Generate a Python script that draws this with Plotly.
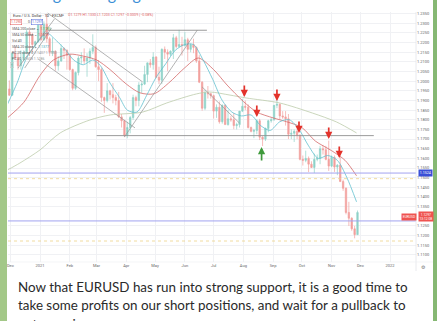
import plotly.graph_objects as go
import pandas as pd

W, H = 437, 321
def px(x): return x / W
def py(y): return 1 - y / H

# ---------------- data ----------------
candle_dates = pd.date_range("2020-11-27", periods=123, freq="3D")
opens = [1.1890,1.1960,1.1927,1.2145,1.2120,1.2080,1.2110,1.2150,1.2255,1.2240,
         1.2190,1.2205,1.2300,1.2215,1.2295,1.2220,1.2150,1.2155,1.2080,1.2105,
         1.2170,1.2160,1.2135,1.2060,1.1963,1.2045,1.2120,1.2125,1.2105,1.2120,
         1.2155,1.2175,1.2075,1.2060,1.1915,1.1900,1.1950,1.1930,1.1915,1.1900,
         1.1815,1.1795,1.1720,1.1760,1.1812,1.1915,1.1900,1.1980,1.1985,1.2035,
         1.2095,1.2085,1.2125,1.2020,1.2005,1.2165,1.2150,1.2140,1.2155,1.2225,
         1.2180,1.2190,1.2185,1.2215,1.2165,1.2190,1.2175,1.2105,1.1995,1.1860,
         1.1940,1.1935,1.1925,1.1845,1.1865,1.1790,1.1875,1.1775,1.1805,1.1800,
         1.1770,1.1775,1.1845,1.1870,1.1865,1.1760,1.1740,1.1745,1.1795,1.1710,
         1.1700,1.1755,1.1795,1.1800,1.1875,1.1880,1.1820,1.1815,1.1805,1.1725,
         1.1730,1.1740,1.1720,1.1595,1.1590,1.1600,1.1570,1.1553,1.1595,1.1600,
         1.1650,1.1645,1.1595,1.1560,1.1605,1.1555,1.1565,1.1480,1.1445,1.1320,
         1.1290,1.1235,1.1205]
highs = [1.1965,1.2004,1.2150,1.2177,1.2145,1.2160,1.2160,1.2273,1.2265,1.2250,
         1.2210,1.2310,1.2310,1.2310,1.2349,1.2230,1.2225,1.2160,1.2130,1.2190,
         1.2175,1.2165,1.2140,1.2065,1.2050,1.2130,1.2150,1.2170,1.2145,1.2170,
         1.2243,1.2185,1.2110,1.2070,1.1920,1.1990,1.1955,1.1990,1.1930,1.1945,
         1.1830,1.1800,1.1790,1.1820,1.1930,1.1925,1.1995,1.1995,1.2080,1.2095,
         1.2115,1.2150,1.2130,1.2075,1.2170,1.2180,1.2165,1.2160,1.2245,1.2235,
         1.2266,1.2230,1.2255,1.2225,1.2195,1.2220,1.2180,1.2135,1.2000,1.1955,
         1.1975,1.1940,1.1930,1.1880,1.1895,1.1880,1.1880,1.1850,1.1820,1.1835,
         1.1785,1.1845,1.1909,1.1900,1.1880,1.1765,1.1753,1.1803,1.1805,1.1715,
         1.1760,1.1800,1.1810,1.1875,1.1909,1.1885,1.1845,1.1845,1.1830,1.1750,
         1.1750,1.1750,1.1725,1.1615,1.1640,1.1610,1.1585,1.1625,1.1620,1.1665,
         1.1670,1.1665,1.1692,1.1615,1.1615,1.1570,1.1607,1.1490,1.1450,1.1375,
         1.1295,1.1250,1.1330]
lows = [1.1880,1.1925,1.1925,1.2110,1.2060,1.2060,1.2105,1.2140,1.2130,1.2150,
        1.2170,1.2200,1.2210,1.2210,1.2200,1.2130,1.2130,1.2055,1.2055,1.2100,
        1.2115,1.2060,1.2055,1.1953,1.1955,1.2030,1.2090,1.2090,1.2023,1.2090,
        1.2140,1.2070,1.2000,1.1893,1.1836,1.1890,1.1905,1.1885,1.1875,1.1810,
        1.1760,1.1710,1.1704,1.1730,1.1800,1.1870,1.1870,1.1940,1.1980,1.1995,
        1.2070,1.2060,1.2015,1.1985,1.1985,1.2115,1.2052,1.2130,1.2115,1.2170,
        1.2175,1.2133,1.2180,1.2105,1.2150,1.2145,1.2095,1.1990,1.1847,1.1850,
        1.1910,1.1910,1.1807,1.1810,1.1780,1.1780,1.1775,1.1770,1.1790,1.1751,
        1.1750,1.1760,1.1840,1.1850,1.1755,1.1735,1.1705,1.1725,1.1695,1.1664,
        1.1690,1.1735,1.1785,1.1795,1.1860,1.1800,1.1805,1.1770,1.1700,1.1700,
        1.1685,1.1700,1.1590,1.1563,1.1580,1.1529,1.1550,1.1524,1.1585,1.1570,
        1.1620,1.1590,1.1535,1.1555,1.1530,1.1513,1.1480,1.1432,1.1310,1.1250,
        1.1225,1.1186,1.1205]
closes = [1.1960,1.1927,1.2145,1.2120,1.2080,1.2110,1.2150,1.2255,1.2240,1.2190,
          1.2205,1.2300,1.2215,1.2295,1.2220,1.2150,1.2155,1.2080,1.2105,1.2170,
          1.2160,1.2135,1.2060,1.1963,1.2045,1.2120,1.2125,1.2105,1.2120,1.2155,
          1.2175,1.2075,1.2060,1.1915,1.1900,1.1950,1.1930,1.1915,1.1900,1.1815,
          1.1795,1.1720,1.1760,1.1812,1.1915,1.1900,1.1980,1.1985,1.2035,1.2095,
          1.2085,1.2125,1.2020,1.2005,1.2165,1.2150,1.2140,1.2155,1.2225,1.2180,
          1.2190,1.2185,1.2215,1.2165,1.2190,1.2175,1.2105,1.1995,1.1860,1.1940,
          1.1935,1.1925,1.1845,1.1865,1.1790,1.1875,1.1775,1.1805,1.1800,1.1770,
          1.1775,1.1845,1.1870,1.1865,1.1760,1.1740,1.1745,1.1795,1.1710,1.1700,
          1.1755,1.1795,1.1800,1.1875,1.1880,1.1820,1.1815,1.1805,1.1725,1.1730,
          1.1740,1.1720,1.1595,1.1590,1.1600,1.1570,1.1553,1.1595,1.1600,1.1650,
          1.1645,1.1595,1.1560,1.1605,1.1555,1.1565,1.1480,1.1445,1.1320,1.1290,
          1.1235,1.1205,1.1320]

sma20_dates = ["2020-11-28","2020-12-08","2020-12-18","2020-12-30","2021-01-08","2021-01-18",
               "2021-01-28","2021-02-05","2021-02-15","2021-02-25","2021-03-05","2021-03-15",
               "2021-03-25","2021-04-02","2021-04-12","2021-04-22","2021-05-02","2021-05-12",
               "2021-05-22","2021-06-01","2021-06-10","2021-06-20","2021-06-30","2021-07-10",
               "2021-07-20","2021-07-30","2021-08-09","2021-08-19","2021-08-29","2021-09-08",
               "2021-09-18","2021-09-28","2021-10-08","2021-10-18","2021-10-28","2021-11-07",
               "2021-11-17","2021-11-27"]
sma20_vals = [1.1880,1.1990,1.2120,1.2205,1.2250,1.2210,1.2160,1.2110,1.2085,1.2110,
              1.2080,1.1990,1.1915,1.1850,1.1840,1.1925,1.2020,1.2090,1.2160,1.2190,
              1.2190,1.2110,1.2010,1.1900,1.1840,1.1820,1.1825,1.1770,1.1745,1.1790,
              1.1800,1.1750,1.1665,1.1600,1.1615,1.1590,1.1500,1.1375]

sma50_dates = ["2020-11-28","2020-12-15","2021-01-01","2021-01-15","2021-02-01","2021-02-15",
               "2021-03-01","2021-03-15","2021-04-01","2021-04-15","2021-04-30","2021-05-15",
               "2021-06-01","2021-06-15","2021-07-01","2021-07-15","2021-08-01","2021-08-15",
               "2021-09-01","2021-09-15","2021-10-01","2021-10-15","2021-11-01","2021-11-15",
               "2021-11-27"]
sma50_vals = [1.1810,1.1890,1.2030,1.2110,1.2140,1.2130,1.2110,1.2060,1.1985,1.1940,
              1.1935,1.1990,1.2070,1.2120,1.2060,1.1980,1.1895,1.1840,1.1810,1.1790,
              1.1760,1.1690,1.1640,1.1590,1.1510]

sma200_dates = ["2020-11-28","2020-12-11","2021-01-01","2021-01-22","2021-02-22","2021-03-15",
                "2021-04-18","2021-05-13","2021-06-13","2021-06-27","2021-07-18","2021-08-04",
                "2021-09-08","2021-10-12","2021-11-06","2021-11-27"]
sma200_vals = [1.1540,1.1576,1.1644,1.1732,1.1799,1.1825,1.1840,1.1887,1.1934,1.1944,
               1.1928,1.1913,1.1887,1.1835,1.1789,1.1732]

trend_x0 = ["2021-01-09","2020-12-30","2020-12-09","2020-12-16","2021-03-30","2021-06-19"]
trend_y0 = [1.2353,1.2115,1.2068,1.2068,1.1711,1.1970]
trend_x1 = ["2021-04-18","2021-04-10","2021-01-16","2021-01-13","2021-06-14","2021-07-28"]
trend_y1 = [1.1996,1.1758,1.2322,1.2276,1.2265,1.1783]

hline_x0 = ["2021-01-09","2021-03-01"]
hline_x1 = ["2021-06-24","2021-12-15"]
hline_y = [1.2264,1.1718]

blue_levels = [1.1524,1.1276]
dotted_levels = [1.1495,1.1172]

sell_dates = ["2021-08-02","2021-08-15","2021-09-05","2021-09-28","2021-10-29","2021-11-09"]
sell_prices = [1.1918,1.1814,1.1897,1.1732,1.1700,1.1602]
buy_dates = ["2021-08-20"]
buy_prices = [1.1659]

month_ticks = ["2020-12-01","2021-01-01","2021-02-01","2021-03-01","2021-04-01","2021-05-01",
               "2021-06-01","2021-07-01","2021-08-01","2021-09-01","2021-10-01","2021-11-01",
               "2021-12-01","2022-01-01"]
month_labels = ["Dec","2021","Feb","Mar","Apr","May","Jun","Jul","Aug","Sep","Oct","Nov","Dec","2022"]
price_ticks = [1.1100,1.1150,1.1200,1.1250,1.1350,1.1400,1.1450,1.1500,1.1550,
               1.1600,1.1650,1.1700,1.1750,1.1800,1.1850,1.1900,1.1950,1.2000,1.2050,
               1.2100,1.2150,1.2200,1.2250,1.2300,1.2350]

caption_lines = ["Now that EURUSD has run into strong support, it is a good time to",
                 "take some profits on our short positions, and wait for a pullback to",
                 "enter again."]

# ---------------- figure ----------------
UP, DN = "#8fd2c9", "#f2a09e"
fig = go.Figure()
fig.add_trace(go.Candlestick(
    x=candle_dates, open=opens, high=highs, low=lows, close=closes,
    increasing=dict(line=dict(color=UP, width=0.7), fillcolor=UP),
    decreasing=dict(line=dict(color=DN, width=0.7), fillcolor=DN),
    whiskerwidth=0, hoverinfo="skip", showlegend=False))
for xs, ys, col in [(sma200_dates, sma200_vals, "#bccbab"),
                    (sma50_dates, sma50_vals, "#d46a69"),
                    (sma20_dates, sma20_vals, "#62c0cf")]:
    fig.add_trace(go.Scatter(x=xs, y=ys, mode="lines", hoverinfo="skip", showlegend=False,
                             line=dict(color=col, width=0.8, shape="spline", smoothing=0.8)))

# orange markers for the dotted levels on the price scale
fig.add_trace(go.Scatter(x=["2022-01-30"] * len(dotted_levels), y=dotted_levels, mode="markers",
                         marker=dict(color="#f0a030", size=2.2), cliponaxis=False,
                         hoverinfo="skip", showlegend=False))

shapes = []
for a, b, c, d in zip(trend_x0, trend_y0, trend_x1, trend_y1):
    shapes.append(dict(type="line", xref="x", yref="y", x0=a, y0=b, x1=c, y1=d,
                       line=dict(color="#949494", width=0.7)))
for a, c, v in zip(hline_x0, hline_x1, hline_y):
    shapes.append(dict(type="line", xref="x", yref="y", x0=a, y0=v, x1=c, y1=v,
                       line=dict(color="#8f8f8f", width=0.9)))
for v in blue_levels:
    shapes.append(dict(type="line", xref="paper", yref="y", x0=px(8), x1=px(416), y0=v, y1=v,
                       line=dict(color="#a2a3f0", width=1.0)))
for v in dotted_levels:
    shapes.append(dict(type="line", xref="paper", yref="y", x0=px(8), x1=px(416), y0=v, y1=v,
                       line=dict(color="#eed389", width=0.8, dash="dot")))
# scale separators
shapes.append(dict(type="line", xref="paper", yref="paper", x0=px(416), x1=px(416),
                   y0=py(271), y1=py(12), line=dict(color="#e3e5ea", width=0.8)))
shapes.append(dict(type="line", xref="paper", yref="paper", x0=px(8), x1=px(433),
                   y0=py(262), y1=py(262), line=dict(color="#eceef2", width=0.6)))
# green slide border strips
shapes.append(dict(type="rect", xref="paper", yref="paper", x0=0, x1=px(7), y0=0, y1=1,
                   fillcolor="#a3c888", line=dict(width=0), layer="above"))
shapes.append(dict(type="rect", xref="paper", yref="paper", x0=px(433), x1=1, y0=0, y1=1,
                   fillcolor="#86b873", line=dict(width=0), layer="above"))

ann = []
for d, p in zip(sell_dates, sell_prices):
    ann.append(dict(x=d, y=p, xref="x", yref="y", ax=0, ay=-13, text="", showarrow=True,
                    arrowhead=2, arrowsize=0.85, arrowwidth=1.7, arrowcolor="#e3322b"))
for d, p in zip(buy_dates, buy_prices):
    ann.append(dict(x=d, y=p, xref="x", yref="y", ax=0, ay=15, text="", showarrow=True,
                    arrowhead=2, arrowsize=0.85, arrowwidth=1.7, arrowcolor="#3f9a3c"))

TF = "Roboto"
def label(x, y, text, size=3.8, color="#555", **kw):
    d = dict(x=px(x), y=py(y), xref="paper", yref="paper", text=text, showarrow=False,
             xanchor="left", yanchor="middle", font=dict(family=TF, size=size, color=color))
    d.update(kw)
    ann.append(d)

label(11, 15.5, "Euro / U.S. Dollar · 1D · FXCM", size=3.8, color="#3b3b3b")
label(59.5, 15.5, "●", size=3.2, color="#777")
label(66, 15.5, "O1.1279 H1.1330 L1.1203 C1.1297 −0.0009 (−0.08%)", size=3.6, color="#e06262")
label(10, 22.5, "1.1290", size=3.3, color="#e05050", bordercolor="#e05050", borderwidth=0.5,
      borderpad=0.6, bgcolor="white")
label(25.5, 22.5, "0.0", size=3.3, color="#555")
label(31, 22.5, "1.1297", size=3.3, color="#4a63d8", bordercolor="#4a63d8", borderwidth=0.5,
      borderpad=0.6, bgcolor="white")
label(10, 29, "SMA 200 close ⌄ <span style='color:#6aa84f'>1.1785</span>", size=3.5)
label(10, 35, "SMA 50 close ⌄ <span style='color:#d04848'>1.1519</span>", size=3.5)
label(10, 41, "Vol 40", size=3.5)
label(10, 47, "SMA 20 close ⌄ <span style='color:#3aa6b9'>1.1377</span>", size=3.5)
label(10, 53, "RC 20 close 0 <span style='color:#999'>1.1407 1.1350</span>", size=3.5)
label(10, 59, "PC 20 <span style='color:#999'>1.1608 1.1186</span>", size=3.5)
label(10, 65, "«", size=3.5, color="#777", bordercolor="#ccc", borderwidth=0.5, borderpad=0.4)

# price-scale tags
ann.append(dict(x=px(417.5), y=1.1524, xref="paper", yref="y", text="1.1524", showarrow=False,
                xanchor="left", font=dict(family=TF, size=3.6, color="white"),
                bgcolor="#3a4fd6", borderpad=0.8))
ann.append(dict(x=px(416.5), y=py(221), xref="paper", yref="paper", text="EURUSD", showarrow=False,
                xanchor="right", font=dict(family=TF, size=3.3, color="white"),
                bgcolor="#ef5350", borderpad=0.8))
ann.append(dict(x=px(417.5), y=py(221.5), xref="paper", yref="paper", text="1.1297<br>13:12:08",
                showarrow=False, xanchor="left", font=dict(family=TF, size=3.3, color="white"),
                bgcolor="#ef5350", borderpad=0.5))
label(423, 266.5, "⚙", size=5, color="#777", xanchor="center")

# title (partly cut by the top edge) and caption
ann.append(dict(x=px(17), y=py(5.5), xref="paper", yref="paper", text="Swing Trading Signals",
                showarrow=False, xanchor="left", yanchor="bottom",
                font=dict(family="Lato", size=16, color="#3a8fd6")))
for line, yc in zip(caption_lines, [286.5, 305, 323.5]):
    ann.append(dict(x=px(16), y=py(yc), xref="paper", yref="paper", text=line, showarrow=False,
                    xanchor="left", yanchor="middle", align="left",
                    font=dict(family="Lato", size=13.4, color="#2a2a2a")))

fig.update_layout(
    width=W, height=H, margin=dict(l=0, r=0, t=0, b=0),
    paper_bgcolor="white", plot_bgcolor="white", showlegend=False,
    shapes=shapes, annotations=ann,
    xaxis=dict(domain=[px(8), px(416)], type="date",
               range=["2020-11-28 14:00", "2022-01-28"],
               rangeslider=dict(visible=False), tickvals=month_ticks, ticktext=month_labels,
               tickfont=dict(family=TF, size=4, color="#666"), ticks="",
               showgrid=True, gridcolor="#f0f1f4", gridwidth=0.6, zeroline=False, showline=False),
    yaxis=dict(domain=[1 - 262 / H, 1 - 12 / H], range=[1.10632, 1.23585], side="right",
               tickvals=price_ticks, tickformat=".4f",
               tickfont=dict(family=TF, size=4, color="#666"), ticks="",
               showgrid=True, gridcolor="#f0f1f4", gridwidth=0.6, zeroline=False, showline=False),
)
fig.write_html("out.html")
